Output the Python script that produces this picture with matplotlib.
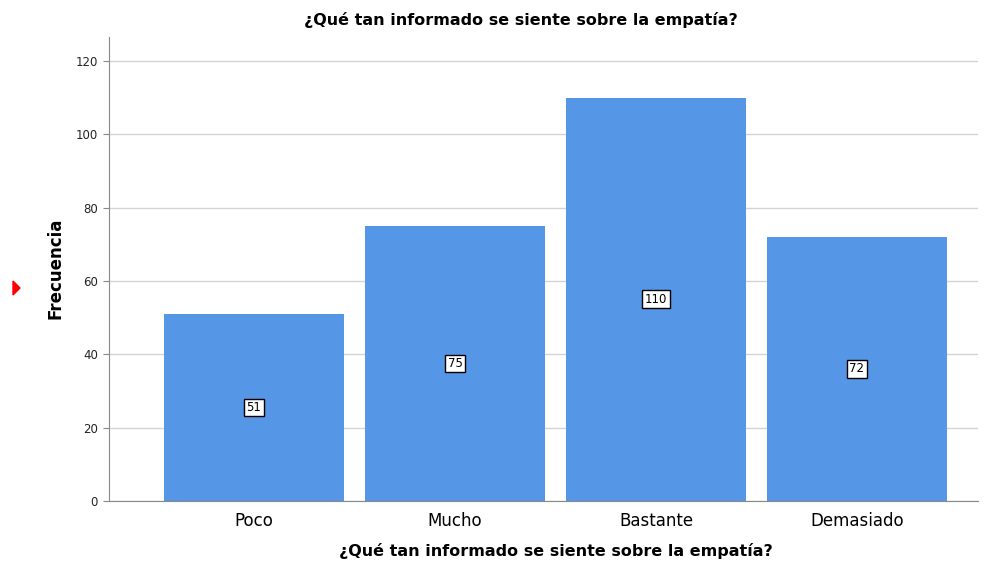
import matplotlib.pyplot as plt
from matplotlib.patches import Polygon

categorias = ['Poco', 'Mucho', 'Bastante', 'Demasiado']
frecuencias = [51, 75, 110, 72]
yticks = [0, 20, 40, 60, 80, 100, 120]

titulo = '¿Qué tan informado se siente sobre la empatía?'

fig = plt.figure(figsize=(9.91, 5.67), dpi=100)
ax = fig.add_axes([109 / 991, 1 - 501 / 567, (978 - 109) / 991, (501 - 37) / 567])

x = list(range(len(categorias)))
ax.bar(x, frecuencias, width=0.896, color='#5596e6', zorder=2)

# etiquetas en el centro de cada barra
for xi, v in zip(x, frecuencias):
    ax.text(xi, v / 2, str(v), ha='center', va='center', fontsize=8.5, zorder=3,
            bbox=dict(boxstyle='square,pad=0.2', facecolor='white', edgecolor='black', linewidth=1.0))

ax.set_xlim(-0.721, 3.602)
ax.set_ylim(0, 126.5)
ax.set_yticks(yticks)
ax.set_yticklabels([str(t) for t in yticks], fontsize=8.5, color='#222222')
ax.set_xticks(x)
ax.set_xticklabels(categorias, fontsize=12)
ax.tick_params(axis='x', length=0, pad=8)
ax.tick_params(axis='y', length=4, width=0.8, color='#888888', pad=4)

ax.grid(axis='y', color='#d4d4d4', linewidth=1, zorder=0)
ax.spines['top'].set_visible(False)
ax.spines['right'].set_visible(False)
ax.spines['left'].set_color('#888888')
ax.spines['bottom'].set_color('#888888')

# títulos de ejes
ax.set_xlabel(titulo, fontsize=11.5, fontweight='bold')
ax.xaxis.set_label_coords((556 - 109) / (978 - 109), -(551 - 501) / (501 - 37))
ax.xaxis.label.set_va('center')
ax.set_ylabel('Frecuencia', fontsize=12, fontweight='bold')
ax.yaxis.set_label_coords(-(109 - 55) / (978 - 109), (501 - 268) / (501 - 37))
ax.yaxis.label.set_va('center')
fig.text(521 / 991, 1 - 20 / 567, titulo, ha='center', va='center', fontsize=11.5, fontweight='bold')

# marcador rojo a la izquierda
tri = Polygon([[13 / 991, 1 - 281 / 567], [13 / 991, 1 - 295 / 567], [20 / 991, 1 - 288 / 567]],
              closed=True, transform=fig.transFigure, color='red')
fig.patches.append(tri)

fig.savefig('out.png', dpi=100)
